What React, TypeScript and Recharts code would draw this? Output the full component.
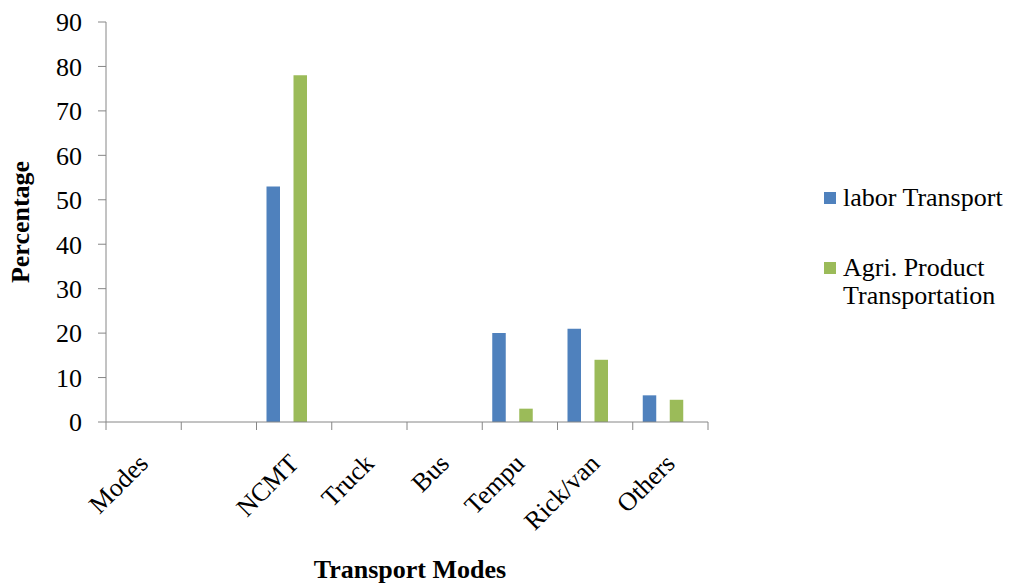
import React from "react";
import { BarChart, Bar, XAxis, YAxis, Legend } from "recharts";

const categories = ["Modes", "", "NCMT", "Truck", "Bus", "Tempu", "Rick/van", "Others"];
const laborTransport: (number | null)[] = [null, null, 53, null, null, 20, 21, 6];
const agriTransport: (number | null)[] = [null, null, 78, null, null, 3, 14, 5];
const yTicks = [0, 10, 20, 30, 40, 50, 60, 70, 80, 90];
const seriesNames = ["labor Transport", "Agri. Product Transportation"];
const seriesColors = ["#4F81BD", "#9BBB59"];

const data = categories.map((c, i) => ({
  mode: c,
  labor: laborTransport[i],
  agri: agriTransport[i],
}));

const FONT = "'Liberation Serif', 'Times New Roman', serif";
const AXIS = "#868686";

const XTick = (props: any) => {
  const { x, y, payload, index, visibleTicksCount, width } = props;
  const half =
    payload && typeof payload.offset === "number" && payload.offset > 0
      ? payload.offset
      : width / visibleTicksCount / 2;
  const ax = x + 6;
  const ay = y + 43;
  return (
    <g>
      <line x1={x - half} y1={y} x2={x - half} y2={y + 8} stroke={AXIS} strokeWidth={1} />
      {index === visibleTicksCount - 1 && (
        <line x1={x + half} y1={y} x2={x + half} y2={y + 8} stroke={AXIS} strokeWidth={1} />
      )}
      <text
        x={ax}
        y={ay}
        transform={`rotate(-45, ${ax}, ${ay})`}
        textAnchor="end"
        style={{ fontFamily: FONT, fontSize: 26 }}
        fill="#000"
      >
        {payload.value}
      </text>
    </g>
  );
};

const YTick = (props: any) => {
  const { x, y, payload } = props;
  return (
    <text
      x={x}
      y={y}
      dy="0.36em"
      textAnchor="end"
      style={{ fontFamily: FONT, fontSize: 26 }}
      fill="#000"
    >
      {payload.value}
    </text>
  );
};

const YTitle = (props: any) => {
  const vb = props.viewBox || {};
  const x = vb.x + 29;
  const y = vb.y + vb.height / 2;
  return (
    <text
      x={x}
      y={y}
      transform={`rotate(-90, ${x}, ${y})`}
      textAnchor="middle"
      style={{ fontFamily: FONT, fontSize: 26, fontWeight: "bold" }}
      fill="#000"
    >
      Percentage
    </text>
  );
};

const XTitle = (props: any) => {
  const vb = props.viewBox || {};
  return (
    <text
      x={vb.x + vb.width / 2 + 3}
      y={vb.y + 156}
      textAnchor="middle"
      style={{ fontFamily: FONT, fontSize: 26, fontWeight: "bold" }}
      fill="#000"
    >
      Transport Modes
    </text>
  );
};

const LegendContent = () => {
  return (
    <div style={{ position: "relative", width: 190, height: 140, fontFamily: FONT, fontSize: 26, lineHeight: "28px", color: "#000" }}>
      {seriesNames.map((name, i) => (
        <div key={i} style={{ position: "absolute", left: 0, top: i * 70, width: 190 }}>
          <div style={{ position: "absolute", left: 0, top: 8, width: 12, height: 12, background: seriesColors[i] }} />
          <div style={{ position: "absolute", left: 19, top: 0, width: 168 }}>{name}</div>
        </div>
      ))}
    </div>
  );
};

export default function App() {
  return (
    <div style={{ position: "absolute", left: 0, top: 0, width: 1014, height: 587, background: "#fff" }}>
      <BarChart
        width={1014}
        height={587}
        data={data}
        margin={{ top: 22, right: 306, bottom: 0, left: 0 }}
        barGap={13.5}
      >
        <XAxis
          dataKey="mode"
          height={165}
          tickSize={0}
          tickMargin={0}
          tickLine={false}
          axisLine={{ stroke: AXIS, strokeWidth: 1 }}
          tick={<XTick />}
          interval={0}
          label={<XTitle />}
        />
        <YAxis
          width={106}
          domain={[0, 90]}
          ticks={yTicks}
          interval={0}
          tickSize={8}
          tickMargin={16}
          tickLine={{ stroke: AXIS }}
          axisLine={{ stroke: AXIS, strokeWidth: 1 }}
          tick={<YTick />}
          label={<YTitle />}
        />
        <Legend
          layout="horizontal"
          verticalAlign="middle"
          align="center"
          width={190}
          wrapperStyle={{ left: 824, top: 184, width: 190 }}
          content={<LegendContent />}
        />
        <Bar dataKey="labor" name={seriesNames[0]} fill={seriesColors[0]} barSize={13.5} isAnimationActive={false} />
        <Bar dataKey="agri" name={seriesNames[1]} fill={seriesColors[1]} barSize={13.5} isAnimationActive={false} />
        <Bar dataKey="spacer" legendType="none" fill="none" barSize={0.5} isAnimationActive={false} />
      </BarChart>
    </div>
  );
}
